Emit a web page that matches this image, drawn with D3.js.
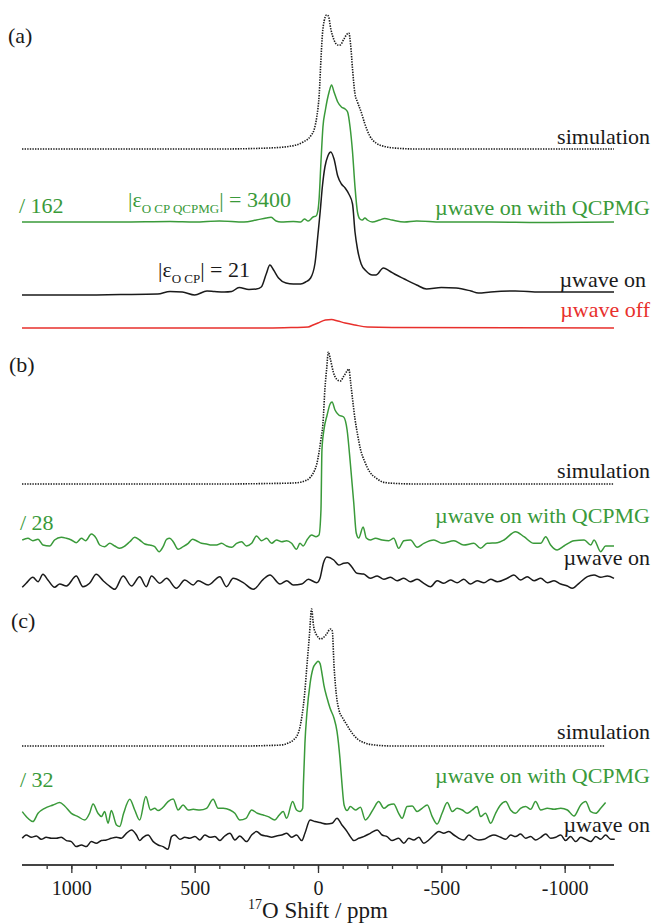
<!DOCTYPE html>
<html>
<head>
<meta charset="utf-8">
<script src="https://cdn.jsdelivr.net/npm/d3@7/dist/d3.min.js"></script>
<style>
  body { margin: 0; background: #fff; }
</style>
</head>
<body>
<svg width="654" height="923" font-family="'Liberation Serif', 'DejaVu Serif', serif"></svg>
<script>
  // spectra as [shift (ppm), intensity]
  const simA = [[1200,0],[400,0],[200,0.01],[120,0.025],[60,0.07],[30,0.13],[15,0.2],[5,0.32],[-5,0.55],[-12,0.9],[-18,1.15],[-25,1.28],[-35,1.34],[-42,1.33],[-52,1.2],[-65,1.09],[-80,1.04],[-90,1.04],[-105,1.1],[-118,1.15],[-125,1.16],[-132,1.05],[-140,0.8],[-150,0.55],[-160,0.47],[-175,0.37],[-190,0.25],[-210,0.13],[-235,0.06],[-270,0.025],[-320,0.008],[-400,0],[-1200,0]];

  const qcpmgA = [[1200,0],[800,0],[600,0.005],[500,0],[400,0.01],[300,0],[250,0.02],[210,0.04],[190,0.047],[170,0.01],[150,0],[100,0.005],[70,0],[55,0.03],[40,0.01],[20,0.05],[8,0.06],[0,0.12],[-5,0.25],[-12,0.6],[-20,0.95],[-30,1.12],[-45,1.3],[-55,1.37],[-65,1.3],[-80,1.2],[-95,1.15],[-110,1.13],[-120,1.1],[-130,0.95],[-140,0.7],[-150,0.35],[-160,0.1],[-170,0.03],[-180,0.02],[-190,0.04],[-200,0.02],[-220,0],[-250,0.02],[-270,0.035],[-300,0.02],[-350,0],[-400,0.01],[-500,0],[-700,0],[-900,-0.005],[-1200,0]];

  const onA = [[1200,-0.01],[1000,-0.01],[800,-0.005],[650,0],[600,0.025],[550,0.02],[500,-0.01],[450,0.03],[420,0.025],[380,0.02],[350,0.025],[320,0.065],[280,0.045],[250,0.05],[230,0.07],[210,0.2],[195,0.29],[180,0.24],[160,0.16],[130,0.11],[100,0.1],[70,0.1],[50,0.12],[30,0.16],[12,0.31],[0,0.6],[-8,0.8],[-18,1.08],[-28,1.27],[-40,1.38],[-52,1.42],[-65,1.35],[-80,1.18],[-95,1.1],[-110,1.06],[-125,1.0],[-140,0.9],[-150,0.62],[-160,0.45],[-175,0.3],[-195,0.23],[-220,0.19],[-235,0.19],[-265,0.26],[-290,0.23],[-310,0.2],[-350,0.15],[-400,0.09],[-440,0.05],[-500,0.065],[-560,0.06],[-620,0.03],[-650,0.01],[-700,0.02],[-800,0.03],[-900,0.02],[-1000,0.02],[-1200,0.02]];

  const offA = [[1200,0],[200,0],[100,0.005],[40,0.01],[20,0.03],[0,0.05],[-30,0.08],[-55,0.085],[-80,0.07],[-110,0.05],[-150,0.03],[-200,0.01],[-300,0.005],[-1200,0]];

  const simB = [[1200,0],[400,0],[200,0.005],[100,0.01],[60,0.025],[30,0.07],[15,0.13],[5,0.2],[-5,0.33],[-12,0.45],[-20,0.6],[-28,0.95],[-35,1.15],[-42,1.32],[-50,1.25],[-62,1.12],[-75,1.05],[-90,1.03],[-105,1.08],[-118,1.13],[-125,1.15],[-133,1.0],[-140,0.85],[-150,0.65],[-160,0.5],[-172,0.35],[-190,0.22],[-210,0.12],[-235,0.06],[-270,0.015],[-320,0.005],[-400,0],[-1200,0]];

  const qcpmgB = [[1199,0],[1176,0.017],[1156,-0.007],[1135,0.007],[1115,-0.05],[1088,-0.06],[1068,0],[1041,0.027],[1020,0.017],[1000,0],[980,-0.027],[959,0.017],[942,-0.007],[919,0.06],[899,0.017],[885,-0.05],[865,-0.067],[844,-0.033],[824,-0.06],[804,-0.083],[783,-0.06],[763,-0.017],[743,0.027],[723,0],[702,-0.04],[682,-0.05],[662,-0.067],[644,-0.117],[628,-0.067],[614,0.007],[601,0.017],[587,-0.017],[567,-0.093],[547,-0.067],[526,-0.033],[509,0.007],[493,-0.007],[472,-0.033],[452,-0.04],[432,-0.05],[411,-0.05],[391,-0.033],[371,-0.06],[350,-0.073],[330,-0.033],[310,-0.017],[290,-0.06],[269,-0.033],[249,0.04],[229,-0.007],[208,0.017],[188,-0.033],[168,0],[147,-0.017],[127,-0.007],[107,-0.033],[87,-0.093],[73,-0.033],[60,-0.06],[43,0.007],[26,0.05],[8,0.033],[-4,0.05],[-12,0.3],[-16,0.9],[-24,1.1],[-37,1.25],[-49,1.36],[-57,1.38],[-69,1.3],[-84,1.25],[-104,1.23],[-118,1.1],[-131,0.77],[-145,0.37],[-155,0.07],[-165,0.02],[-183,0.13],[-196,0.02],[-212,0],[-233,0.017],[-260,0],[-287,-0.007],[-307,0.017],[-327,-0.083],[-348,-0.007],[-375,0],[-402,-0.073],[-429,-0.033],[-470,0],[-503,-0.033],[-551,-0.007],[-591,-0.05],[-632,-0.033],[-659,-0.083],[-686,-0.033],[-727,-0.027],[-754,0],[-801,0.083],[-835,0.033],[-875,-0.033],[-903,-0.033],[-923,0.033],[-943,-0.05],[-970,-0.1],[-997,-0.06],[-1038,-0.007],[-1079,0],[-1106,-0.05],[-1119,0],[-1146,-0.117],[-1166,-0.06],[-1200,-0.06]];

  const onB = [[1199,-0.043],[1183,-0.003],[1156,0.057],[1135,0.013],[1115,0.087],[1095,0.03],[1068,-0.043],[1047,-0.01],[1020,-0.03],[980,0.07],[953,-0.037],[926,-0.003],[899,0.087],[871,0.023],[851,-0.02],[824,-0.063],[790,0.07],[756,-0.03],[723,0.063],[696,-0.037],[675,0.07],[641,-0.003],[614,0.047],[574,-0.053],[540,0.03],[506,-0.02],[486,0.023],[445,-0.02],[398,0.063],[371,-0.037],[344,0.047],[303,0.003],[262,-0.063],[222,0.037],[195,0.08],[154,-0.01],[127,0.023],[100,-0.02],[66,-0.01],[39,0.037],[5,0.003],[-8,0.047],[-22,0.2],[-36,0.26],[-64,0.23],[-84,0.18],[-104,0.197],[-120,0.203],[-138,0.157],[-158,0.097],[-185,0.09],[-212,0.047],[-240,0.07],[-267,0.037],[-294,0.057],[-321,0.023],[-348,0.047],[-375,0.013],[-402,0.037],[-429,-0.003],[-456,-0.037],[-483,0.023],[-510,-0.003],[-537,0.03],[-564,0.003],[-591,0.037],[-618,-0.01],[-645,0.023],[-673,0.003],[-700,0.037],[-727,0.013],[-767,0.047],[-794,0.08],[-821,0.03],[-848,0.063],[-876,0.023],[-903,0.047],[-930,0.003],[-957,0.023],[-984,-0.01],[-1011,-0.03],[-1031,-0.053],[-1058,-0.003],[-1092,0.063],[-1119,0.08],[-1146,0.057],[-1173,0.07],[-1200,0.047]];

  const simC = [[1200,0],[300,0],[200,0.005],[150,0.01],[120,0.03],[100,0.06],[80,0.13],[65,0.3],[55,0.5],[45,0.8],[35,1.1],[26,1.37],[18,1.2],[8,1.12],[0,1.09],[-10,1.07],[-20,1.08],[-35,1.12],[-50,1.17],[-58,1.15],[-65,0.8],[-75,0.5],[-85,0.36],[-100,0.28],[-115,0.22],[-135,0.14],[-160,0.07],[-190,0.03],[-230,0.01],[-300,0],[-1160,0]];

  const qcpmgC = [[1199,0.017],[1176,-0.05],[1156,-0.083],[1135,0],[1108,0.05],[1074,0.083],[1047,0.107],[1027,0.073],[1000,0],[973,-0.033],[946,-0.067],[926,0],[912,0.093],[892,0],[878,-0.033],[865,0.017],[851,-0.1],[838,0.027],[817,-0.117],[804,-0.133],[788,0],[763,0.14],[743,0.033],[723,-0.067],[698,0.167],[679,0.033],[662,0.05],[648,0.027],[628,0.06],[608,0.117],[587,0.143],[567,0.033],[547,0.083],[526,0.033],[506,0.04],[479,0.033],[452,0.05],[425,0.14],[405,0.05],[384,0.05],[357,0.033],[337,0],[317,-0.067],[292,-0.05],[269,0.033],[246,0],[222,-0.017],[202,-0.033],[175,-0.067],[157,-0.017],[141,0.017],[127,-0.05],[103,0.117],[87,0.033],[73,0.017],[62,0.05],[59,0.3],[53,0.7],[45,1.0],[32,1.3],[20,1.45],[8,1.5],[0,1.52],[-8,1.5],[-16,1.4],[-24,1.28],[-37,1.15],[-49,1.05],[-65,0.95],[-77,0.82],[-89,0.55],[-97,0.3],[-106,0.08],[-118,0.027],[-131,0.067],[-152,0.033],[-172,0.06],[-192,-0.067],[-206,-0.033],[-226,0.05],[-246,0.117],[-267,0.05],[-287,0.083],[-307,0.093],[-327,0],[-341,-0.05],[-361,0.067],[-382,0.073],[-402,0.017],[-422,0.05],[-443,0.083],[-463,-0.033],[-483,-0.107],[-503,0],[-524,0.107],[-544,0.017],[-564,0.05],[-585,0.033],[-605,0],[-625,0.033],[-645,0.067],[-659,-0.033],[-679,0],[-700,-0.1],[-720,0],[-740,0.083],[-761,0.117],[-781,0.033],[-801,0],[-821,0.05],[-842,0.067],[-862,0.04],[-882,0.117],[-903,0.033],[-930,0.05],[-957,0.04],[-984,0.05],[-1011,0.033],[-1038,-0.027],[-1065,0.083],[-1085,0.117],[-1106,0.017],[-1126,0],[-1146,0.05],[-1166,0.107]];

  const onC = [[1199,0],[1183,0.033],[1162,0.01],[1142,0.023],[1122,-0.01],[1102,0.01],[1081,0],[1061,0],[1041,0.01],[1020,-0.023],[1000,-0.033],[980,-0.083],[959,-0.067],[939,-0.083],[919,-0.033],[899,-0.05],[878,-0.023],[858,-0.017],[838,0],[817,0.01],[797,0],[777,0.05],[756,0.083],[736,0.033],[723,-0.023],[709,0.01],[689,0.033],[668,-0.033],[648,-0.067],[628,-0.083],[608,-0.11],[594,0.017],[581,0.033],[560,-0.01],[540,0.01],[520,0],[499,0.017],[479,-0.017],[459,0.033],[438,0.01],[418,0.017],[398,-0.023],[378,0.023],[357,0.05],[337,-0.017],[317,0.023],[290,-0.033],[269,0.033],[249,0.067],[229,0.033],[208,0.023],[188,0.01],[168,0.023],[147,0.033],[127,0.05],[107,0.01],[87,0.033],[66,-0.023],[53,0.05],[32,0.183],[12,0.167],[-8,0.157],[-36,0.143],[-57,0.15],[-77,0.2],[-97,0.133],[-118,0.067],[-131,0.017],[-145,-0.023],[-165,0],[-185,0.017],[-212,0.05],[-240,0.083],[-260,0.033],[-280,0.017],[-300,-0.023],[-327,0],[-348,-0.05],[-368,0],[-388,-0.017],[-409,0.01],[-429,-0.05],[-449,-0.017],[-470,0.033],[-490,0.067],[-510,0.05],[-530,0.067],[-551,0.033],[-571,0],[-591,-0.017],[-612,0.033],[-632,0],[-652,-0.017],[-673,-0.01],[-693,0.017],[-713,0.033],[-740,0.01],[-761,-0.01],[-781,0.033],[-801,0.017],[-821,0.043],[-842,0],[-862,0.017],[-882,-0.017],[-903,0.01],[-923,0.043],[-943,0],[-964,0.01],[-984,0.033],[-1004,-0.023],[-1024,0.017],[-1045,-0.033],[-1065,0.01],[-1085,-0.01],[-1106,-0.033],[-1126,0.017],[-1146,-0.01],[-1166,0.033],[-1187,-0.01],[-1203,-0.01]];

  const majorTicks = [1000, 500, 0, -500, -1000];
  const minorTicks = d3.range(1100, -1200, -100);

  const serif = "'Liberation Serif', 'DejaVu Serif', serif";
  const green = "#3a9a3a", red = "#e8302c", black = "#1a1a1a";

  const svg = d3.select("svg");
  const x = d3.scaleLinear().domain([1200, -1200]).range([22, 614]);

  // each trace sits on its own baseline; 1 intensity unit = 100 px
  const traces = [
    {data: simA, base: 149, color: black, dotted: true},
    {data: qcpmgA, base: 222, color: green},
    {data: onA, base: 294, color: black},
    {data: offA, base: 328, color: red},
    {data: simB, base: 484, color: black, dotted: true},
    {data: qcpmgB, base: 540, color: green},
    {data: onB, base: 583, color: black},
    {data: simC, base: 746, color: black, dotted: true},
    {data: qcpmgC, base: 813.3, color: green},
    {data: onC, base: 838.3, color: black}
  ];

  traces.forEach(t => {
    const y = d3.scaleLinear().domain([0, 1]).range([t.base, t.base - 100]);
    const line = d3.line()
        .x(d => x(d[0]))
        .y(d => y(d[1]))
        .curve(d3.curveMonotoneX);
    svg.append("path")
        .datum(t.data)
        .attr("d", line)
        .attr("fill", "none")
        .attr("stroke", t.color)
        .attr("stroke-width", t.dotted ? 1.6 : 1.5)
        .attr("stroke-dasharray", t.dotted ? "1.4,1.2" : null)
        .attr("stroke-linejoin", "round");
  });

  // texts
  const labels = [
    {t: "(a)", x: 8, y: 43, c: black},
    {t: "(b)", x: 9, y: 372, c: black},
    {t: "(c)", x: 11, y: 628, c: black},
    {t: "simulation", x: 650, y: 144, c: black, end: true},
    {t: "\u00b5wave on with QCPMG", x: 650, y: 215, c: green, end: true},
    {t: "\u00b5wave on", x: 646, y: 287, c: black, end: true},
    {t: "\u00b5wave off", x: 650, y: 317, c: red, end: true},
    {t: "simulation", x: 650, y: 478, c: black, end: true},
    {t: "\u00b5wave on with QCPMG", x: 650, y: 523, c: green, end: true},
    {t: "\u00b5wave on", x: 650, y: 565, c: black, end: true},
    {t: "simulation", x: 650, y: 739, c: black, end: true},
    {t: "\u00b5wave on with QCPMG", x: 650, y: 783, c: green, end: true},
    {t: "\u00b5wave on", x: 650, y: 832, c: black, end: true},
    {t: "/ 162", x: 19, y: 213, c: green},
    {t: "/ 28", x: 20, y: 530, c: green},
    {t: "/ 32", x: 20, y: 787, c: green}
  ];

  svg.selectAll("text.lbl")
    .data(labels)
    .join("text")
      .attr("class", "lbl")
      .attr("x", d => d.x)
      .attr("y", d => d.y)
      .attr("fill", d => d.c)
      .attr("font-family", serif)
      .attr("font-size", 22)
      .attr("text-anchor", d => d.end ? "end" : "start")
      .text(d => d.t);

  // enhancement factors with subscripts
  const eps = [
    {sub: "O CP QCPMG", val: "| = 3400", x: 128, y: 207, c: green},
    {sub: "O CP", val: "| = 21", x: 158, y: 277, c: black}
  ];
  eps.forEach(e => {
    const txt = svg.append("text")
        .attr("x", e.x).attr("y", e.y)
        .attr("fill", e.c)
        .attr("font-family", serif)
        .attr("font-size", 22);
    txt.append("tspan").text("|\u03b5");
    txt.append("tspan").attr("font-size", 13).attr("dy", 6).text(e.sub);
    txt.append("tspan").attr("dy", -6).text(e.val);
  });

  // x axis
  const axisY = 865;
  const ax = svg.append("g")
      .attr("transform", `translate(0,${axisY})`);
  ax.call(d3.axisBottom(x).tickValues(minorTicks).tickSize(4).tickFormat(""));
  ax.call(g => g.selectAll(".domain").remove());
  const axMaj = svg.append("g")
      .attr("transform", `translate(0,${axisY})`)
      .call(d3.axisBottom(x).tickValues(majorTicks).tickSize(8).tickPadding(8).tickFormat(d => String(d)));
  axMaj.select(".domain").attr("d", `M${x(1200)},0H${x(-1200)}`).attr("stroke", "#444").attr("stroke-width", 2);
  svg.selectAll(".tick line").attr("stroke", "#333").attr("stroke-width", 1.3);
  axMaj.attr("font-family", serif);
  axMaj.selectAll(".tick text")
      .attr("font-size", 20)
      .attr("fill", black);

  const title = svg.append("text")
      .attr("x", x(0))
      .attr("y", 918)
      .attr("text-anchor", "middle")
      .attr("font-family", serif)
      .attr("font-size", 23)
      .attr("fill", black);
  title.append("tspan").attr("font-size", 14).attr("dy", -9).text("17");
  title.append("tspan").attr("dy", 9).text("O Shift / ppm");
</script>
</body>
</html>
